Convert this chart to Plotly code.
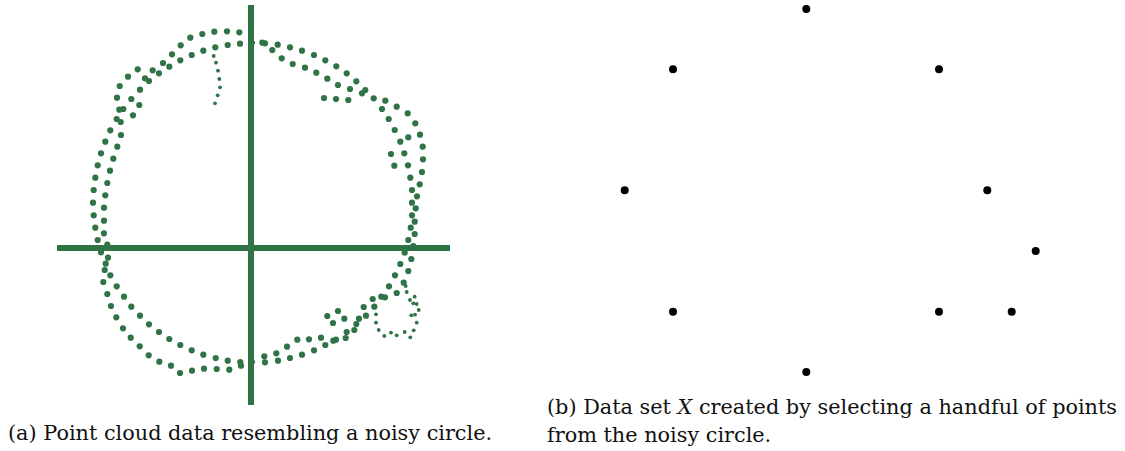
import plotly.graph_objects as go

# ---- panel (a): noisy circle point cloud (screen-space coordinates, y downward) ----
cloud_big_x = [
    239.3, 227, 214.3, 202.3, 190.3, 180.7, 172, 163, 152.7, 137.7, 128, 119.7, 117, 119.3, 123.3,
    116.7, 110.3, 105.3, 101, 97.7, 95.3, 93.7, 93,
    240, 227.7, 215.3, 203.3, 191.7, 180.3, 169.3, 159, 149, 145, 140, 131.3, 139.3, 133, 120.7,
    121, 117.3, 113.3, 110, 107.3, 105.3, 104,
    262.3, 265, 277.7, 290, 302, 314, 325.3, 336.3, 346.7, 356.3, 365.3, 362, 373.7, 385.3, 396.7,
    407.7, 415.3, 420, 422.7, 423, 422, 419.7, 417, 415.7,
    272.3, 281.7, 292.7, 305, 316.3, 327.3, 338, 350, 324, 336, 348.3, 382, 388.7, 394.7, 400.3,
    408.3, 391, 404.3, 394.3, 408, 410.3, 412, 412,
    93.7, 104, 95.3, 104, 97.7, 107.3, 101, 108, 105.7, 104.7, 110.3, 103.3, 116.7, 107.3, 124,
    111, 131.3, 116.3, 140, 123, 149, 130.7, 159, 139.7, 169.3, 148.7, 180.3, 159.3, 191.7, 171,
    203.3, 180, 215.7, 192, 227.7, 204, 240.3, 241, 216.7, 229.3,
    412, 414.7, 410.7, 414.7, 408.3, 413.3, 404.7, 411.3, 400.3, 408.3, 395, 403.7, 389, 396.7,
    381.3, 385, 372.7, 374.3, 363.7, 366, 359, 356.3, 354.3, 346.7, 345.7, 338, 327.3, 344.3, 333,
    336, 333.3, 321, 325.3, 309, 314, 297.3, 302, 287, 290, 276.3, 278, 264.3, 265,
]
cloud_big_y = [
    32.3, 31.3, 31.7, 34, 37.7, 45.3, 54.3, 63, 70.3, 69.3, 76.7, 86, 97.7, 109.7, 109,
    119, 130.3, 141.7, 153.3, 165.3, 177.7, 190, 202.7,
    43.7, 45, 47.3, 50.7, 55, 60.3, 66.7, 73.3, 81, 78.3, 89.7, 99, 105, 115.3, 122,
    135, 146.7, 158.7, 170.7, 183, 195.3, 207.7,
    42.7, 43.3, 44.7, 47.3, 50.7, 55, 60.3, 66.3, 73.3, 81.3, 90, 93.3, 98.3, 100.7, 106.7,
    113.3, 123.3, 134.7, 146.7, 159.3, 172, 184.3, 196.3, 208.3,
    50, 58.3, 64, 67.7, 72.7, 78.7, 85, 89, 98, 99, 100, 109, 119, 130, 141.7,
    137.3, 154, 153.3, 165.7, 165.3, 177.7, 190, 202.7,
    215.3, 220.7, 227.7, 233.3, 240, 244.7, 252.3, 257.7, 263.7, 270, 275.3, 282, 286.3, 294, 296.7,
    306, 306.7, 317.3, 315.7, 328.3, 324.3, 337.7, 332, 346.3, 339, 355.3, 345, 361.7, 350.3, 365.7,
    354.7, 373, 358, 370.7, 360.7, 368.7, 362, 365.7, 369, 369.7,
    215.3, 221.7, 227.7, 234, 240, 246, 252.7, 259, 264, 271, 275.3, 282.7, 286.3, 293,
    296.7, 297.3, 299, 306.7, 307, 315.7, 318.7, 324, 330, 332, 338, 311, 316, 318.7, 323,
    339.7, 340.7, 337.7, 345, 339.3, 350.3, 339.7, 354.7, 346.7, 358, 353.3, 360.7, 356.3, 362.3,
]

cloud_small_x = [
    213.7, 216, 218, 219.3, 220, 217.7, 215,
    253.3, 253.3,
    405.7, 406.7, 410, 414.7, 413.3, 416.7, 418.7, 411.3, 415, 416.7, 413.7, 410.3, 404.7, 396.7,
    391, 384.3, 378.7, 376, 376,
]
cloud_small_y = [
    56, 62.7, 70.7, 79, 87.3, 95.3, 103.3,
    42.7, 362,
    286, 292, 300, 296.7, 303.3, 304, 310, 315.3, 314.7, 322.7, 330.3, 337.3, 332, 335.3,
    332.7, 336, 330, 322.7, 314.3,
]

# coordinate axes drawn through the cloud
axis_h = (57, 450, 248)     # x0, x1, y
axis_v = (251, 5, 405)      # x, y0, y1

# ---- panel (b): selected subset X ----
subset_x = [806.3, 673, 939, 624.7, 987.3, 1035.7, 673, 939, 1011.7, 806.3]
subset_y = [9, 69.3, 69.3, 190.3, 190.3, 251, 311.7, 311.7, 311.7, 372]

caption_a = "(a) Point cloud data resembling a noisy circle."
caption_b1 = "(b) Data set <i>X</i> created by selecting a handful of points"
caption_b2 = "from the noisy circle."

GREEN = "#2F7346"
FONT = "DejaVu Serif"

fig = go.Figure()

fig.add_shape(type="line", x0=axis_h[0], x1=axis_h[1], y0=axis_h[2], y1=axis_h[2],
              line=dict(color=GREEN, width=6), layer="below")
fig.add_shape(type="line", x0=axis_v[0], x1=axis_v[0], y0=axis_v[1], y1=axis_v[2],
              line=dict(color=GREEN, width=6), layer="below")

fig.add_trace(go.Scatter(x=cloud_big_x, y=cloud_big_y, mode="markers",
                         marker=dict(size=6.2, color=GREEN, line=dict(width=0)),
                         hoverinfo="skip"))
fig.add_trace(go.Scatter(x=cloud_small_x, y=cloud_small_y, mode="markers",
                         marker=dict(size=3.8, color=GREEN, line=dict(width=0)),
                         hoverinfo="skip"))
fig.add_trace(go.Scatter(x=subset_x, y=subset_y, mode="markers",
                         marker=dict(size=8, color="black", line=dict(width=0)),
                         hoverinfo="skip"))

cap_font = dict(family=FONT, size=20.8, color="#111111")
fig.add_annotation(x=6, y=433, text=caption_a, showarrow=False, xanchor="left",
                   yanchor="middle", font=cap_font)
fig.add_annotation(x=545, y=407, text=caption_b1, showarrow=False, xanchor="left",
                   yanchor="middle", font=cap_font)
fig.add_annotation(x=545, y=435, text=caption_b2, showarrow=False, xanchor="left",
                   yanchor="middle", font=cap_font)

fig.update_layout(
    width=1125, height=451,
    margin=dict(l=0, r=0, t=0, b=0),
    paper_bgcolor="white", plot_bgcolor="white",
    showlegend=False,
    xaxis=dict(range=[0, 1125], visible=False, fixedrange=True),
    yaxis=dict(range=[451, 0], visible=False, fixedrange=True),
)

fig.write_html("out.html", config={"displayModeBar": False})
